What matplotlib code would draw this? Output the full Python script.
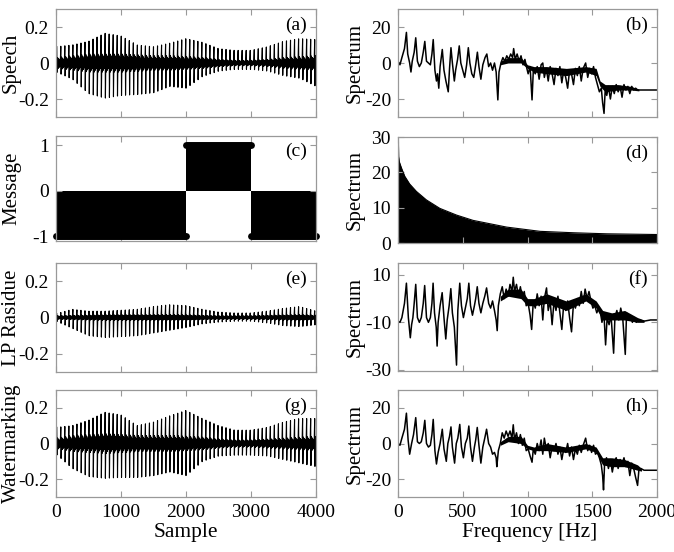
import matplotlib
matplotlib.use('Agg')
import matplotlib.pyplot as plt
import numpy as np

plt.rcParams['font.family'] = ['Liberation Serif', 'DejaVu Serif']
plt.rcParams['axes.unicode_minus'] = False

# envelope readings of the time signals (sample index -> amplitude)
env_samples = [0, 250, 500, 750, 1000, 1250, 1500, 1750, 2000, 2250, 2500, 2750, 3000, 3250, 3500, 3750, 4000]

speech_upper = [0.09, 0.10, 0.12, 0.165, 0.15, 0.10, 0.09, 0.11, 0.135, 0.115, 0.08, 0.07, 0.07, 0.09, 0.12, 0.135, 0.13]
speech_lower = [-0.05, -0.09, -0.17, -0.195, -0.18, -0.175, -0.165, -0.13, -0.14, -0.075, -0.045, -0.035, -0.035, -0.045, -0.07, -0.085, -0.13]
speech_band = [0.03, 0.04, 0.05, 0.05, 0.05, 0.045, 0.04, 0.04, 0.035, 0.03, 0.02, 0.015, 0.015, 0.02, 0.03, 0.035, 0.04]

resid_upper = [0.02, 0.045, 0.035, 0.035, 0.04, 0.045, 0.06, 0.07, 0.065, 0.045, 0.03, 0.025, 0.025, 0.035, 0.05, 0.06, 0.035]
resid_lower = [-0.02, -0.06, -0.10, -0.11, -0.105, -0.10, -0.085, -0.07, -0.055, -0.035, -0.025, -0.02, -0.02, -0.03, -0.045, -0.05, -0.04]
resid_band = [0.01, 0.012, 0.014, 0.015, 0.015, 0.015, 0.015, 0.015, 0.014, 0.012, 0.01, 0.01, 0.01, 0.012, 0.014, 0.015, 0.012]

wm_upper = [0.09, 0.10, 0.13, 0.175, 0.16, 0.10, 0.12, 0.155, 0.185, 0.14, 0.10, 0.075, 0.075, 0.09, 0.12, 0.14, 0.14]
wm_lower = [-0.06, -0.14, -0.185, -0.195, -0.19, -0.19, -0.18, -0.16, -0.18, -0.10, -0.07, -0.065, -0.065, -0.07, -0.09, -0.11, -0.13]
wm_band = [0.03, 0.045, 0.05, 0.055, 0.05, 0.045, 0.045, 0.045, 0.04, 0.035, 0.025, 0.02, 0.02, 0.025, 0.03, 0.035, 0.04]

pitch_period = 62   # samples between glottal pulses
pulse_start = 12

# message bits
msg_edges = [0, 2000, 3000, 4000]
msg_values = [-1, 1, -1]

# message spectrum envelope (Hz, magnitude)
msg_spec_f = [0, 3, 5, 10, 26, 52, 90, 142, 219, 323, 452, 580, 839, 1097, 1355, 1613, 2000]
msg_spec_v = [30, 30, 24.5, 23, 21.3, 18.9, 16.7, 14.6, 12.2, 9.8, 7.9, 6.4, 4.5, 3.3, 2.9, 2.6, 2.4]

# spectra (Hz, dB)
spec_speech = [
    (0, 1), (15, -1), (30, 3), (50, 8), (65, 17), (75, 5), (90, 0), (100, -5), (110, 1), (125, 6), (137, 14),
    (150, 1), (165, -2), (180, 0), (195, 6), (207, 12), (220, 1), (235, 0), (250, -1), (262, 5), (272, 13),
    (285, -4), (297, -10), (305, -6), (315, -14), (325, -2), (342, 7.5), (355, -4), (370, -10), (388, -16),
    (398, -3), (409, 8.5), (420, 0), (435, -10), (445, -4), (460, 2), (473, 9.5), (485, 0), (500, -4),
    (515, -8), (530, -1), (543, 8.5), (555, 0), (570, -6), (585, -8), (600, -1), (613, 6), (625, -2),
    (640, -9), (655, -1), (672, 3), (686, 5), (700, -2), (715, 0), (730, -4), (745, 0), (758, -5),
    (771, -20.5), (780, -5), (795, 0), (810, 3), (825, 1), (840, 4), (855, 2), (870, 5), (885, 3), (893, 8),
    (905, 2), (920, 5), (935, 1), (950, 4), (965, -1), (980, 2), (995, -3), (1005, -6), (1020, -2),
    (1035, -20.5), (1045, -4), (1060, -6), (1075, -2), (1090, -9), (1105, -1), (1118, 0), (1130, -8),
    (1145, -3), (1160, -10), (1175, -2), (1190, -6), (1205, -12), (1220, -3), (1235, -7), (1250, -2),
    (1265, -11), (1280, -4), (1295, -8), (1310, -14), (1325, -4), (1340, -6), (1355, -12), (1370, -3),
    (1385, -7), (1400, -2), (1415, -10), (1430, -3), (1449, 0), (1465, -8), (1480, -3), (1495, -6),
    (1510, -2), (1525, -8), (1540, -12), (1555, -16), (1570, -14), (1580, -22), (1591, -28), (1600, -15),
    (1612, -18), (1625, -13), (1640, -20), (1655, -13), (1670, -17), (1685, -12), (1700, -16), (1715, -13),
    (1730, -19), (1745, -12), (1760, -15), (1775, -13), (1790, -17), (1805, -13), (1820, -15), (1835, -14),
    (1850, -15), (1900, -15), (2000, -15)]

spec_resid = [
    (0, -9.5), (15, -10), (30, -8), (50, -2), (65, 6.5), (80, -8), (95, -16.5), (105, -11), (115, -8),
    (125, -2), (137, 6), (150, -8), (165, -10), (180, -8), (195, -2), (206, 5.5), (220, -8), (235, -10),
    (250, -8), (262, -2), (271, 6.5), (282, -6), (295, -12), (302, -20), (310, -10), (325, -3), (341, 2.5),
    (355, -8), (369, -17), (380, -9), (395, -3), (408, 4.2), (420, -6), (435, -12), (452, -28), (462, -5),
    (477, 6.5), (490, -3), (505, -8), (520, -4), (535, 0), (547, 6.5), (560, -3), (575, -7), (590, -3),
    (600, 0), (612, 5), (625, -2), (640, -6), (655, -2), (670, 1), (684, 4.5), (700, -2), (715, -4),
    (730, -1), (745, -5), (758, -9), (766, -13.5), (775, -3), (790, 2), (805, 5), (820, 0), (835, 4),
    (850, 1), (865, 6), (880, 3), (890, 9), (900, 3), (915, 6), (930, 1), (945, 5), (960, 0), (975, 3),
    (990, -3), (1005, -2), (1020, -7), (1032, -13), (1045, -1), (1060, -4), (1075, 2), (1090, -3),
    (1105, 1), (1118, -9), (1130, 0), (1147, 4.5), (1160, -5), (1175, -1), (1190, -11), (1205, -1),
    (1220, -5), (1235, 1), (1250, -6), (1265, -13), (1280, -2), (1295, -5), (1310, -1), (1325, -8),
    (1340, -14), (1355, -2), (1370, -4), (1385, 0), (1400, -3), (1415, 3), (1430, -2), (1445, 4),
    (1460, 0), (1475, 3), (1490, -1), (1505, -4), (1520, -3), (1535, -6), (1550, -4), (1561, -5),
    (1575, -10), (1590, -6), (1603, -19.5), (1615, -8), (1630, -11), (1645, -7), (1665, -23), (1675, -8),
    (1690, -5), (1705, -9), (1720, -4), (1735, -8), (1755, -23.5), (1765, -6), (1780, -9), (1795, -7),
    (1810, -10), (1825, -8), (1840, -10), (1860, -9), (1900, -9.5), (1950, -9), (2000, -9)]

spec_wm = [
    (0, 0), (15, -1), (30, 3), (50, 8), (65, 17), (78, 2), (90, -6), (105, 0), (120, 5), (137, 14.5),
    (150, 1), (165, 0), (180, 1), (195, 6), (207, 13), (220, 0), (235, -2), (250, -1), (262, 5),
    (272, 13.5), (285, -4), (297, -11.5), (310, -5), (325, 0), (342, 8), (355, -3), (373, -10), (385, 0),
    (398, 4), (409, 9.3), (420, -2), (437, -11), (450, 0), (462, 3), (477, 10.7), (490, -2), (505, -8),
    (520, 0), (535, 3), (547, 9.8), (560, -2), (575, -10), (590, -2), (600, 2), (612, 9), (625, -1),
    (640, -11), (655, -2), (670, 3), (684, 8), (700, 0), (715, -2), (730, -6), (745, -5), (758, -8),
    (763, -13), (775, -4), (790, 0), (805, 6), (820, 3), (835, 7), (850, 4), (865, 7), (880, 3),
    (890, 10.5), (900, 2), (915, 6), (930, 0), (945, 5), (960, -1), (975, 3), (990, -4), (1005, -3),
    (1020, -7), (1035, -10.5), (1045, -3), (1060, -6), (1075, 0), (1090, -4), (1105, 2), (1118, -6),
    (1130, 3), (1145, -3), (1160, 0), (1175, -8), (1190, -2), (1205, -4), (1220, 0), (1235, -6),
    (1250, -2), (1265, -9), (1280, -3), (1295, -5), (1310, 0), (1325, -7), (1340, -2), (1355, -9),
    (1370, -3), (1385, -6), (1400, -1), (1415, -5), (1430, -1), (1449, 3), (1465, -4), (1480, -1),
    (1495, -5), (1510, -1), (1525, -6), (1540, -5), (1555, -8), (1570, -12), (1580, -18), (1587, -26),
    (1595, -12), (1610, -8), (1625, -14), (1640, -9), (1655, -16), (1670, -10), (1685, -8), (1700, -14),
    (1715, -9), (1730, -12), (1745, -8), (1760, -13), (1775, -10), (1790, -18), (1805, -11), (1820, -14),
    (1835, -19), (1850, -23.5), (1860, -15), (1875, -14), (1900, -15), (2000, -15)]

# dense fuzzy band of each spectrum above ~800 Hz (Hz, upper dB, lower dB)
fuzz_speech_f = [790, 850, 950, 1000, 1050, 1150, 1300, 1450, 1530, 1560, 1600, 1700, 1800, 1860]
fuzz_speech_hi = [1, 3, 3, -1, -2, -2, -3, -2, -3, -10, -12, -12, -13, -14.5]
fuzz_speech_lo = [-1, 0, 0, -3, -5, -6, -7, -5, -7, -13, -16, -15, -15, -15.5]

fuzz_resid_f = [790, 850, 950, 1000, 1050, 1150, 1300, 1450, 1530, 1580, 1650, 1750, 1850, 1900]
fuzz_resid_hi = [1, 4, 4, 0, 0, 2, -1, 2, -1, -5, -6, -5, -8, -9]
fuzz_resid_lo = [-1, 1, 0, -3, -3, -2, -5, -1, -4, -9, -9, -9, -10, -10]

fuzz_wm_f = [790, 850, 950, 1000, 1050, 1150, 1300, 1450, 1530, 1580, 1650, 1750, 1850, 1880]
fuzz_wm_hi = [1, 4, 4, -1, -2, 0, -2, 0, -2, -8, -8, -9, -12, -14]
fuzz_wm_lo = [-1, 1, 0, -3, -4, -4, -5, -3, -5, -12, -13, -13, -15, -15.5]

sample_ticks = [0, 1000, 2000, 3000, 4000]
freq_ticks = [0, 500, 1000, 1500, 2000]

W, H = 674, 552
fig = plt.figure(figsize=(W / 100, H / 100), dpi=100)
frame = '#999999'


def px_axes(x0, y0, x1, y1):
    return fig.add_axes([x0 / W, 1 - y1 / H, (x1 - x0) / W, (y1 - y0) / H])


def style(ax, tag):
    for s in ax.spines.values():
        s.set_color(frame)
        s.set_linewidth(0.9)
    ax.tick_params(direction='in', top=True, right=True, color=frame, length=4,
                   labelsize=14, labelcolor='black', pad=5)
    ax.text(0.965, 0.85, tag, transform=ax.transAxes, ha='right', va='center', fontsize=14)


def pulse_trace(upper, lower, band):
    pos = np.arange(pulse_start, 4000, pitch_period)
    up = np.interp(pos, env_samples, upper)
    lo = np.interp(pos, env_samples, lower)
    bd = np.interp(pos, env_samples, band)
    xs, ys = [], []
    for p, u, l, b in zip(pos, up, lo, bd):
        xs += [p, p + 4, p + 12, p + 20, p + 28, p + 36, p + 44, p + 52]
        ys += [u, l, b, -b, 0.8 * b, -0.8 * b, 0.6 * b, -0.6 * b]
    return xs, ys


left_col = (56, 316)
right_col = (398, 657)
rows = [(9, 117), (136, 241), (263, 372), (390, 497)]

# left column: time signals
waves = [(speech_upper, speech_lower, speech_band, 'Speech', '(a)'),
         None,
         (resid_upper, resid_lower, resid_band, 'LP Rasidue', '(e)'),
         (wm_upper, wm_lower, wm_band, 'Watermarking', '(g)')]

for i, (y0, y1) in enumerate(rows):
    ax = px_axes(left_col[0], y0, left_col[1], y1)
    if i == 1:
        for a, b, v in zip(msg_edges[:-1], msg_edges[1:], msg_values):
            ax.fill_between([a, b], [0, 0], [v, v], color='black', lw=0)
            ax.plot([a, b], [v, v], color='black', lw=5, solid_capstyle='round', clip_on=False)
        ax.set_ylim(-1.1, 1.2)
        ax.set_yticks([-1, 0, 1])
        ax.set_ylabel('Message', fontsize=15)
        style(ax, '(c)')
    else:
        up, lo, bd, lab, tag = waves[i]
        xs, ys = pulse_trace(up, lo, bd)
        ax.plot(xs, ys, color='black', lw=0.8)
        ax.set_ylim(-0.3, 0.3)
        ax.set_yticks([-0.2, 0, 0.2])
        ax.set_yticklabels(['-0.2', '0', '0.2'])
        ax.set_ylabel(lab, fontsize=15)
        style(ax, tag)
    ax.set_xlim(0, 4000)
    ax.set_xticks(sample_ticks)
    ax.yaxis.set_label_coords(-0.135, 0.5)
    if i < 3:
        ax.set_xticklabels([])
    else:
        ax.set_xlabel('Sample', fontsize=15.5)
        ax.xaxis.set_label_coords(0.5, -0.24)

# right column: spectra
spectra = [(spec_speech, fuzz_speech_f, fuzz_speech_hi, fuzz_speech_lo, (-30, 30), [-20, 0, 20], '(b)'),
           None,
           (spec_resid, fuzz_resid_f, fuzz_resid_hi, fuzz_resid_lo, (-30.5, 15), [-30, -10, 10], '(f)'),
           (spec_wm, fuzz_wm_f, fuzz_wm_hi, fuzz_wm_lo, (-30, 30), [-20, 0, 20], '(h)')]
right_rows = [(9, 117), (137, 243), (263, 371), (390, 497)]

for i, (y0, y1) in enumerate(right_rows):
    ax = px_axes(right_col[0], y0, right_col[1], y1)
    if i == 1:
        ax.fill_between(msg_spec_f, 0, msg_spec_v, color='black', lw=0)
        ax.plot(msg_spec_f, msg_spec_v, color='black', lw=0.8)
        ax.set_ylim(0, 30)
        ax.set_yticks([0, 10, 20, 30])
        style(ax, '(d)')
    else:
        data, ff, fh, fl, lim, ticks, tag = spectra[i]
        f = [p[0] for p in data]
        v = [p[1] for p in data]
        ax.fill_between(ff, fl, fh, color='black', lw=0)
        ax.plot(f, v, color='black', lw=1.1)
        ax.set_ylim(*lim)
        ax.set_yticks(ticks)
        style(ax, tag)
    ax.set_ylabel('Spectrum', fontsize=15)
    ax.yaxis.set_label_coords(-0.128, 0.5)
    ax.set_xlim(0, 2000)
    ax.set_xticks(freq_ticks)
    if i < 3:
        ax.set_xticklabels([])
    else:
        ax.set_xlabel('Frequency [Hz]', fontsize=15.5)
        ax.xaxis.set_label_coords(0.51, -0.24)

fig.savefig('out.png', dpi=100)
